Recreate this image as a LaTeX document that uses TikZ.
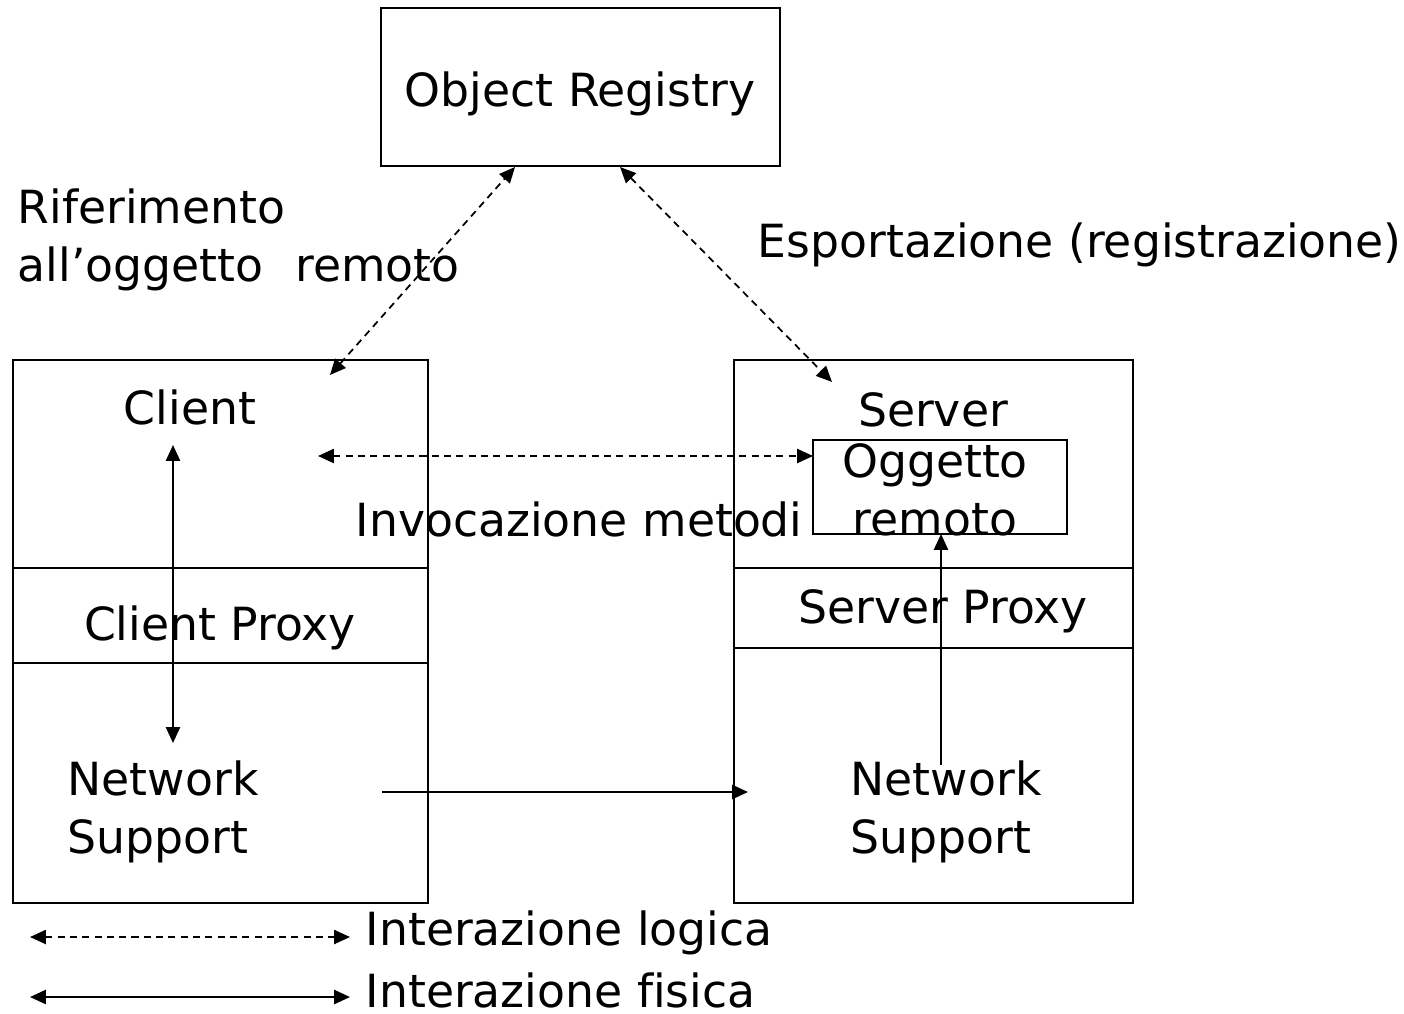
\documentclass[tikz,border=0pt]{standalone}
\usepackage{fontspec}
\setmainfont{DejaVu Sans}
\usetikzlibrary{arrows.meta}
\tikzset{
  box/.style={draw, line width=0.7pt},
  label/.style={inner sep=0pt, font=\fontsize{13}{16.5}\selectfont},
  logical/.style={line width=0.5pt, dash pattern=on 2pt off 1.5pt,
    {Triangle[length=4.5pt,width=4pt]}-{Triangle[length=4.5pt,width=4pt]}},
  physical/.style={line width=0.6pt,
    {Triangle[length=4.5pt,width=4pt]}-{Triangle[length=4.5pt,width=4pt]}},
  oneway/.style={line width=0.6pt, -{Triangle[length=4.5pt,width=4pt]}}
}
\begin{document}
\begin{tikzpicture}
			%%%%% START %%%%%
			\useasboundingbox (0, 0) rectangle (14.04, -10.13);
			
			% registry
			\draw[box] (3.81, -0.08) rectangle (7.80, -1.66);
			\node[label] (registry) at (5.80, -0.94) {Object Registry};
			
			% client side
			\draw[box] (0.13, -3.60) rectangle (4.28, -9.03);
			\draw[box] (0.13, -5.68) -- (4.28, -5.68);
			\draw[box] (0.13, -6.63) -- (4.28, -6.63);
			\node[label] (client) at (1.90, -4.07) {Client};
			\node[label] (cproxy) at (2.20, -6.28) {Client Proxy};
			\node[label, align=left, anchor=west] (cnet) at (0.67, -8.12) {Network\\Support};
			
			% server side
			\draw[box] (7.34, -3.60) rectangle (11.33, -9.03);
			\draw[box] (7.34, -5.68) -- (11.33, -5.68);
			\draw[box] (7.34, -6.48) -- (11.33, -6.48);
			\node[label] (server) at (9.33, -4.10) {Server};
			\draw[box] (8.13, -4.40) rectangle (10.67, -5.34);
			\node[label, align=center] (oggetto) at (9.35, -4.90) {Oggetto\\remoto};
			\node[label] (sproxy) at (9.43, -6.11) {Server Proxy};
			\node[label, align=left, anchor=west] (snet) at (8.50, -8.12) {Network\\Support};
			
			% labels
			\node[label, align=left, anchor=west] (rif) at (0.17, -2.40) {Riferimento\\all’oggetto\hspace{0.7em}remoto};
			\node[label, anchor=west] (esp) at (7.57, -2.45) {Esportazione (registrazione)};
			\node[label, anchor=west] (invoc) at (3.55, -5.19) {Invocazione metodi};
			
			% free ends of connectors
			\coordinate (regL) at (5.15, -1.67);
			\coordinate (regR) at (6.20, -1.67);
			\coordinate (cliTop) at (3.30, -3.75);
			\coordinate (srvTop) at (8.32, -3.82);
			\coordinate (cliInv) at (3.18, -4.56);
			\coordinate (objInv) at (8.13, -4.56);
			\coordinate (cliUp) at (1.73, -4.45);
			\coordinate (cliDown) at (1.73, -7.43);
			\coordinate (netA) at (3.82, -7.92);
			\coordinate (netB) at (7.48, -7.92);
			\coordinate (srvUp) at (9.41, -7.65);
			\coordinate (objLow) at (9.41, -5.34);
			
			\draw[logical] (cliTop) -- (regL);
			\draw[logical] (regR) -- (srvTop);
			\draw[logical] (cliInv) -- (objInv);
			\draw[physical] (cliUp) -- (cliDown);
			\draw[oneway] (netA) -- (netB);
			\draw[oneway] (srvUp) -- (objLow);
			
			% legend
			\coordinate (lgA) at (0.30, -9.37);
			\coordinate (lgB) at (3.50, -9.37);
			\coordinate (lgC) at (0.30, -9.97);
			\coordinate (lgD) at (3.50, -9.97);
			\draw[logical] (lgA) -- (lgB);
			\draw[physical] (lgC) -- (lgD);
			\node[label, anchor=west] (logica) at (3.65, -9.33) {Interazione logica};
			\node[label, anchor=west] (fisica) at (3.65, -9.90) {Interazione f\kern0pt isica};
			%%%%% END %%%%%
\end{tikzpicture}
\end{document}
